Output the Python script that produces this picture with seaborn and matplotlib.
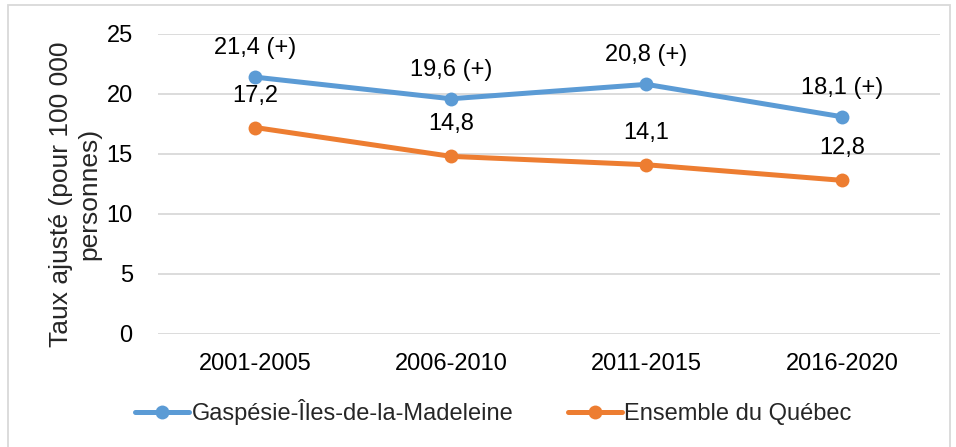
import matplotlib
matplotlib.use('Agg')
import matplotlib.pyplot as plt
from matplotlib.patches import Rectangle
from matplotlib.lines import Line2D
import seaborn as sns
import pandas as pd

periods = ['2001-2005', '2006-2010', '2011-2015', '2016-2020']
gaspesie = [21.4, 19.6, 20.8, 18.1]
quebec = [17.2, 14.8, 14.1, 12.8]
gaspesie_labels = ['21,4 (+)', '19,6 (+)', '20,8 (+)', '18,1 (+)']
quebec_labels = ['17,2', '14,8', '14,1', '12,8']
series_names = ['Gaspésie-Îles-de-la-Madeleine', 'Ensemble du Québec']
colors = ['#5B9BD5', '#ED7D31']

df = pd.DataFrame({
    'periode': periods * 2,
    'taux': gaspesie + quebec,
    'region': [series_names[0]] * 4 + [series_names[1]] * 4,
})

sns.set_style('white')
plt.rcParams['font.family'] = ['Liberation Sans', 'DejaVu Sans']
fs = 17

fig = plt.figure(figsize=(9.56, 4.47), dpi=100)
ax = fig.add_axes([0.165, 0.253, 0.818, 0.671])

sns.lineplot(data=df, x='periode', y='taux', hue='region', palette=colors,
             marker='o', markersize=10, markeredgewidth=0, linewidth=3.6,
             sort=False, legend=False, ax=ax)

for i, (v, lab) in enumerate(zip(gaspesie, gaspesie_labels)):
    ax.annotate(lab, (i, v), xytext=(0, 21), textcoords='offset points',
                ha='center', va='center', fontsize=fs, color='#000000')
for i, (v, lab) in enumerate(zip(quebec, quebec_labels)):
    ax.annotate(lab, (i, v), xytext=(0, 23), textcoords='offset points',
                ha='center', va='center', fontsize=fs, color='#000000')

ax.set_xlim(-0.5, 3.5)
ax.set_ylim(0, 25)
ax.set_yticks([0, 5, 10, 15, 20, 25])
ax.yaxis.grid(True, color='#D9D9D9', linewidth=1.3)
ax.set_axisbelow(True)
for s in ax.spines.values():
    s.set_visible(False)
ax.tick_params(axis='both', length=0, labelsize=fs, colors='#000000')
ax.tick_params(axis='y', pad=18)
ax.tick_params(axis='x', pad=14)
ax.set_xlabel('')
ax.set_ylabel('Taux ajusté (pour 100 000\npersonnes)', fontsize=19,
              linespacing=1.25)
ax.yaxis.set_label_coords(-0.072, 0.467)

handles = [Line2D([], [], color=c, marker='o', markersize=10, markeredgewidth=0,
                  linewidth=3.6) for c in colors]
fig.legend(handles, series_names, loc='center', bbox_to_anchor=(0.516, 0.078),
           ncol=2, frameon=False, fontsize=fs, handlelength=2.3,
           handletextpad=0.1, columnspacing=2.3)

fig.patches.append(Rectangle((8 / 956, -0.05), 942 / 956, 1 - 5 / 447 + 0.05,
                             transform=fig.transFigure, fill=False,
                             edgecolor='#D9D9D9', linewidth=1.3))

fig.savefig('out.png', dpi=100)
